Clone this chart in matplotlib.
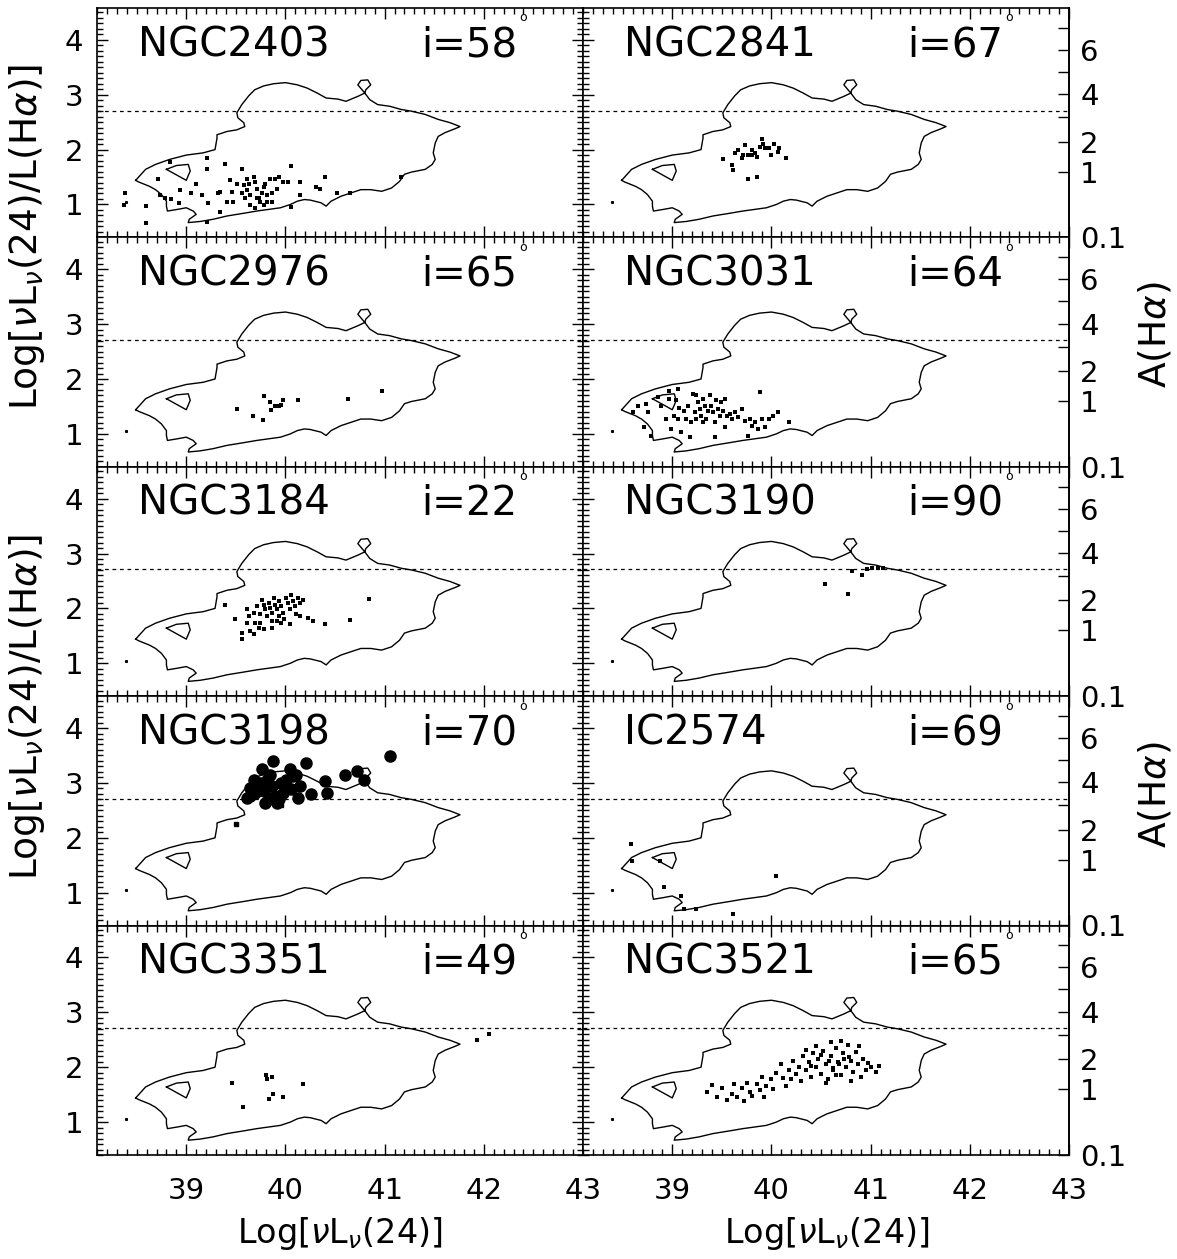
import numpy as np
import matplotlib
matplotlib.use('Agg')
import matplotlib.pyplot as plt
from matplotlib.ticker import MultipleLocator

plt.rcParams['font.family'] = ['DejaVu Sans']
plt.rcParams['mathtext.fontset'] = 'dejavusans'

# panel names and inclinations, row by row (left, right)
names = ['NGC2403', 'NGC2841', 'NGC2976', 'NGC3031', 'NGC3184',
         'NGC3190', 'NGC3198', 'IC2574', 'NGC3351', 'NGC3521']
incs = [58, 67, 65, 64, 22, 90, 70, 69, 49, 65]

# reference contour (same in every panel)
cont_x = [38.49, 38.59, 38.69, 38.83, 39.00, 39.17, 39.29, 39.31, 39.31, 39.41, 39.51, 39.59,
          39.58, 39.52, 39.51, 39.56, 39.63, 39.69, 39.78, 39.88, 40.00, 40.12, 40.22, 40.32,
          40.41, 40.53, 40.61, 40.73, 40.80, 40.73, 40.76, 40.83, 40.86, 40.81, 40.80, 40.85,
          40.93, 41.05, 41.17, 41.27, 41.41, 41.54, 41.66, 41.76, 41.71, 41.61, 41.54, 41.51,
          41.49, 41.51, 41.48, 41.41, 41.27, 41.20, 41.15, 41.07, 40.97, 40.86, 40.76, 40.66,
          40.56, 40.46, 40.41, 40.36, 40.25, 40.19, 40.12, 40.05, 39.95, 39.83, 39.71, 39.58,
          39.41, 39.27, 39.14, 39.02, 39.03, 39.10, 39.07, 39.00, 38.91, 38.81, 38.80, 38.80,
          38.75, 38.69, 38.63, 38.52, 38.49]
cont_y = [1.44, 1.64, 1.73, 1.82, 1.90, 1.94, 2.00, 2.21, 2.27, 2.33, 2.36, 2.42,
          2.49, 2.58, 2.67, 2.82, 2.98, 3.09, 3.16, 3.20, 3.22, 3.18, 3.12, 3.03,
          2.94, 2.92, 2.88, 2.97, 3.03, 3.18, 3.26, 3.27, 3.18, 3.09, 3.03, 2.91,
          2.82, 2.79, 2.73, 2.70, 2.64, 2.55, 2.49, 2.42, 2.38, 2.31, 2.24, 2.12,
          1.94, 1.82, 1.73, 1.64, 1.59, 1.55, 1.42, 1.30, 1.24, 1.27, 1.27, 1.21,
          1.15, 1.06, 0.97, 1.03, 1.08, 1.09, 1.06, 1.00, 0.94, 0.91, 0.88, 0.84,
          0.79, 0.73, 0.69, 0.67, 0.73, 0.82, 0.88, 0.94, 0.91, 0.88, 0.97, 1.06,
          1.18, 1.27, 1.33, 1.41, 1.44]
hole_x = [38.80, 38.90, 39.02, 39.04, 39.00, 38.80]
hole_y = [1.64, 1.71, 1.73, 1.61, 1.44, 1.64]
ref_x = [38.39]
ref_y = [1.05]
dash_level = 2.71

ngc2403_x = [38.38, 38.37, 38.59, 38.59, 38.72, 38.74, 38.79, 38.84, 38.85, 38.94, 38.93, 39.05,
             39.10, 39.16, 39.21, 39.21, 39.21, 39.22, 39.34, 39.34, 39.39, 39.44, 39.46, 39.47,
             39.56, 39.58, 39.61, 39.64, 39.68, 39.69, 39.71, 39.73, 39.74, 39.76, 39.78, 39.79,
             39.81, 39.84, 39.86, 39.89, 39.94, 39.98, 40.03, 40.06, 40.06, 40.15, 40.15, 40.31,
             40.40, 40.35, 40.52, 40.65, 41.17, 39.64, 39.69, 39.51, 39.59, 39.56, 39.41, 39.32,
             39.63, 39.78, 39.91, 39.86, 39.81, 39.71, 39.61]
ngc2403_y = [1.20, 0.99, 0.98, 0.67, 1.47, 1.17, 1.11, 1.78, 1.10, 1.26, 1.02, 1.20,
             1.38, 1.17, 1.84, 1.65, 0.68, 1.02, 1.23, 0.87, 1.73, 1.44, 1.23, 1.05,
             1.65, 1.35, 1.26, 1.17, 1.50, 1.41, 1.29, 1.11, 1.05, 1.20, 0.99, 1.38,
             1.17, 1.47, 1.20, 1.47, 1.50, 1.41, 1.41, 1.71, 0.96, 1.41, 1.18, 1.32,
             1.50, 1.29, 1.20, 1.20, 1.50, 0.99, 0.93, 1.38, 1.11, 1.20, 1.05, 1.20,
             1.38, 1.32, 1.29, 1.05, 1.05, 1.11, 1.47]

ngc2841_x = [39.51, 39.60, 39.61, 39.63, 39.66, 39.71, 39.73, 39.76, 39.80, 39.83, 39.85, 39.88,
             39.90, 39.91, 39.93, 39.98, 40.00, 40.03, 40.07, 40.08, 40.15, 39.76, 39.85, 39.70,
             39.80]
ngc2841_y = [1.82, 1.72, 1.62, 1.93, 1.99, 1.90, 2.08, 1.90, 1.90, 1.93, 1.87, 2.05,
             2.20, 2.11, 2.02, 2.02, 1.90, 2.11, 1.96, 2.02, 1.84, 1.47, 1.50, 1.84,
             1.99]

ngc2976_x = [39.51, 39.67, 39.77, 39.78, 39.84, 39.85, 39.89, 39.93, 39.96, 39.98, 40.13, 40.63, 40.97]
ngc2976_y = [1.45, 1.32, 1.25, 1.69, 1.58, 1.44, 1.50, 1.51, 1.53, 1.61, 1.61, 1.64, 1.79]

ngc3031_x = [38.60, 38.65, 38.71, 38.74, 38.76, 38.79, 38.86, 38.97, 38.97, 38.99, 39.02, 39.04,
             39.06, 39.07, 39.09, 39.12, 39.14, 39.16, 39.18, 39.21, 39.23, 39.24, 39.26, 39.28,
             39.29, 39.31, 39.33, 39.34, 39.36, 39.38, 39.39, 39.41, 39.43, 39.43, 39.44, 39.46,
             39.48, 39.49, 39.51, 39.53, 39.53, 39.55, 39.58, 39.60, 39.63, 39.66, 39.70, 39.73,
             39.76, 39.78, 39.80, 39.83, 39.86, 39.88, 39.90, 39.93, 39.98, 40.02, 40.07, 40.18,
             38.89, 38.94, 39.06, 39.19, 39.24, 39.31]
ngc3031_y = [1.39, 1.51, 1.12, 1.55, 1.39, 0.97, 1.67, 1.79, 1.64, 1.09, 1.33, 1.61,
             1.82, 1.48, 1.03, 1.42, 1.27, 1.51, 0.94, 1.73, 1.39, 1.27, 1.58, 1.45,
             1.33, 1.64, 1.51, 1.27, 1.42, 1.70, 1.51, 1.39, 1.21, 0.94, 1.61, 1.45,
             1.33, 1.58, 1.42, 1.64, 1.12, 1.33, 1.36, 1.27, 1.39, 1.30, 1.45, 1.24,
             0.97, 1.27, 1.15, 1.21, 1.09, 1.76, 1.27, 1.12, 1.27, 1.33, 1.39, 1.21,
             1.51, 1.27, 1.27, 1.21, 1.70, 1.21]

ngc3184_x = [39.39, 39.49, 39.56, 39.56, 39.61, 39.63, 39.64, 39.68, 39.68, 39.71, 39.73, 39.74,
             39.76, 39.78, 39.78, 39.79, 39.81, 39.83, 39.84, 39.86, 39.86, 39.88, 39.89, 39.91,
             39.93, 39.94, 39.96, 39.96, 39.98, 40.01, 40.03, 40.05, 40.06, 40.08, 40.10, 40.11,
             40.13, 40.15, 40.18, 40.05, 39.99, 40.15, 40.23, 40.28, 40.40, 40.65, 40.84, 39.61,
             39.69, 39.74, 39.91, 39.86]
ngc3184_y = [2.07, 1.80, 1.56, 1.44, 1.98, 1.86, 1.59, 1.92, 1.53, 2.04, 1.65, 1.89,
             2.16, 2.07, 1.62, 1.98, 1.86, 2.10, 2.01, 1.92, 1.77, 2.19, 2.07, 1.98,
             1.86, 2.13, 2.04, 1.74, 1.92, 2.19, 2.10, 1.98, 2.25, 2.13, 2.04, 1.89,
             2.19, 2.10, 2.16, 1.71, 1.80, 1.86, 1.83, 1.77, 1.71, 1.78, 2.17, 1.74,
             1.74, 1.74, 1.77, 1.65]

ngc3190_x = [40.54, 40.77, 40.81, 40.91, 40.96, 41.01, 41.07, 41.12]
ngc3190_y = [2.44, 2.27, 2.68, 2.61, 2.71, 2.74, 2.74, 2.73]

# NGC3198: large filled circles plus two small points
ngc3198_x = [39.87, 39.76, 39.68, 39.71, 39.64, 39.61, 39.74, 39.78, 39.81, 39.86, 39.89, 39.83,
             39.79, 39.91, 39.96, 39.98, 40.01, 40.05, 40.08, 40.11, 40.15, 40.21, 40.06, 40.13,
             40.26, 40.40, 40.42, 40.60, 40.72, 40.79, 41.05, 39.64, 39.69, 39.84, 39.94]
ngc3198_y = [3.40, 3.25, 3.06, 2.91, 2.76, 2.73, 3.00, 2.85, 3.06, 2.94, 2.76, 2.70,
             2.64, 2.64, 3.00, 2.82, 3.06, 3.25, 3.13, 3.15, 2.94, 3.37, 2.88, 2.73,
             2.79, 3.03, 2.82, 3.15, 3.22, 3.06, 3.49, 2.91, 2.82, 3.15, 2.70]
ngc3198_small_x = [39.50, 39.96]
ngc3198_small_y = [2.26, 2.59]

ic2574_x = [38.58, 38.59, 38.88, 38.92, 39.09, 39.12, 39.24, 39.61, 40.05]
ic2574_y = [1.88, 1.57, 1.57, 1.10, 0.94, 0.70, 0.70, 0.61, 1.30]

ngc3351_x = [39.46, 39.81, 40.18, 39.87, 39.83, 39.98, 39.57, 39.80, 39.86, 41.93, 42.05]
ngc3351_y = [1.71, 1.78, 1.69, 1.51, 1.42, 1.45, 1.27, 1.85, 1.82, 2.50, 2.60]

ngc3521_x = [39.35, 39.45, 39.50, 39.55, 39.60, 39.65, 39.70, 39.72, 39.78, 39.80, 39.85, 39.88,
             39.92, 39.95, 40.00, 40.02, 39.40, 39.62, 39.75, 39.90,
             40.05, 40.10, 40.12, 40.15, 40.18, 40.20, 40.22, 40.25, 40.28, 40.30, 40.32, 40.35,
             40.38, 40.40, 40.42, 40.45, 40.47, 40.50, 40.52, 40.55, 40.57, 40.60, 40.62, 40.65,
             40.67, 40.70, 40.72, 40.75, 40.77, 40.80, 40.82, 40.85, 40.87, 40.90, 40.92, 40.95,
             40.97, 41.00, 41.05, 41.08, 40.60, 40.70, 40.45, 40.55, 40.80, 40.35, 40.65, 40.88,
             40.40, 40.50, 40.58, 40.68, 40.78, 40.62, 40.73]
ngc3521_y = [1.55, 1.45, 1.62, 1.40, 1.52, 1.45, 1.62, 1.38, 1.55, 1.48, 1.70, 1.58,
             1.45, 1.65, 1.78, 1.60, 1.68, 1.70, 1.72, 1.82,
             1.90, 2.05, 1.80, 1.65, 1.95, 1.78, 2.12, 1.88, 2.00, 1.75, 2.20, 1.95,
             2.10, 1.82, 2.25, 2.00, 2.15, 1.88, 2.30, 2.05, 1.78, 2.20, 1.95, 2.35,
             2.10, 1.85, 2.25, 2.00, 2.40, 2.12, 1.92, 2.28, 2.05, 1.82, 2.15, 1.95,
             2.08, 2.00, 1.92, 2.02, 2.45, 2.48, 2.38, 1.72, 1.75, 2.32, 1.85, 2.38,
             2.02, 2.22, 2.12, 2.05, 2.18, 1.98, 2.15]

points = [(ngc2403_x, ngc2403_y), (ngc2841_x, ngc2841_y), (ngc2976_x, ngc2976_y),
          (ngc3031_x, ngc3031_y), (ngc3184_x, ngc3184_y), (ngc3190_x, ngc3190_y),
          (ngc3198_x, ngc3198_y), (ic2574_x, ic2574_y), (ngc3351_x, ngc3351_y),
          (ngc3521_x, ngc3521_y)]

a_ticks = [0.1, 1, 2, 3, 4, 5, 6, 7]
a_labels = ['0.1', '1', '2', '', '4', '', '6', '']
x_ticks = [39, 40, 41, 42, 43]
y_ticks = [1, 2, 3, 4]


def to_aha(y):
    y = np.asarray(y, dtype=float)
    return 2.5 * np.log10(1.0 + 0.038 * 10.0 ** y)


def from_aha(a):
    a = np.asarray(a, dtype=float)
    with np.errstate(divide='ignore', invalid='ignore'):
        return np.log10((10.0 ** (a / 2.5) - 1.0) / 0.038)


W, H = 1177, 1259
fig, axes = plt.subplots(5, 2, figsize=(W / 100, H / 100), dpi=100)
fig.subplots_adjust(left=97 / W, right=1069 / W, top=1 - 8 / H, bottom=1 - 1155 / H,
                    wspace=0, hspace=0)

fs_name = 29
fs_tick = 21
fs_ylab = 27

for k, ax in enumerate(axes.flat):
    row, col = divmod(k, 2)
    ax.plot(cont_x, cont_y, color='k', lw=1.0)
    ax.plot(hole_x, hole_y, color='k', lw=1.0)
    ax.plot(ref_x, ref_y, 's', color='k', ms=1.2)
    ax.axhline(dash_level, color='k', lw=0.9, ls=(0, (3, 3)))

    px, py = points[k]
    if names[k] == 'NGC3198':
        ax.plot(px, py, 'o', color='k', ms=8, mec='k')
        ax.plot(ngc3198_small_x, ngc3198_small_y, 's', color='k', ms=2.8)
    else:
        ax.plot(px, py, 's', color='k', ms=3.0, mew=0)

    ax.set_xlim(38.1, 43.0)
    ax.set_ylim(0.40, 4.58)
    ax.set_xticks(x_ticks)
    ax.set_yticks(y_ticks)
    ax.xaxis.set_minor_locator(MultipleLocator(0.1))
    ax.yaxis.set_minor_locator(MultipleLocator(0.1))
    ax.tick_params(which='both', direction='in', top=True, right=(col == 0),
                   labelsize=fs_tick, width=1)
    ax.tick_params(which='major', length=8)
    ax.tick_params(which='minor', length=4)
    ax.tick_params(axis='x', pad=16, labelbottom=(row == 4))
    ax.tick_params(axis='y', pad=10, labelleft=(col == 0))
    for s in ax.spines.values():
        s.set_linewidth(1.2)

    ax.text(0.084, 0.79, names[k], transform=ax.transAxes, fontsize=fs_name,
            va='baseline', ha='left')
    ax.text(0.668, 0.79, f'i={incs[k]}', transform=ax.transAxes, fontsize=fs_name,
            va='baseline', ha='left')
    ax.text(0.868, 0.985, 'o', transform=ax.transAxes, fontsize=9,
            va='top', ha='left')

    if col == 1:
        sec = ax.secondary_yaxis('right', functions=(to_aha, from_aha))
        sec.set_yticks(a_ticks)
        sec.set_yticklabels(a_labels)
        sec.minorticks_off()
        sec.tick_params(direction='in', length=8, width=1, labelsize=fs_tick, pad=8)
        sec.spines['right'].set_linewidth(1.2)

ylab = r'Log[$\nu$L$_\nu$(24)/L(H$\alpha$)]'
fig.text(27 / W, 1 - 237 / H, ylab, rotation=90, fontsize=fs_ylab, ha='center', va='center')
fig.text(27 / W, 1 - 707 / H, ylab, rotation=90, fontsize=fs_ylab, ha='center', va='center')
fig.text(1155 / W, 1 - 335 / H, r'A(H$\alpha$)', rotation=90, fontsize=fs_ylab,
         ha='center', va='center')
fig.text(1155 / W, 1 - 795 / H, r'A(H$\alpha$)', rotation=90, fontsize=fs_ylab,
         ha='center', va='center')
xlab = r'Log[$\nu$L$_\nu$(24)]'
fig.text(340 / W, 1 - 1243 / H, xlab, fontsize=24, ha='center', va='baseline')
fig.text(827 / W, 1 - 1243 / H, xlab, fontsize=24, ha='center', va='baseline')

fig.savefig('out.png', dpi=100)
